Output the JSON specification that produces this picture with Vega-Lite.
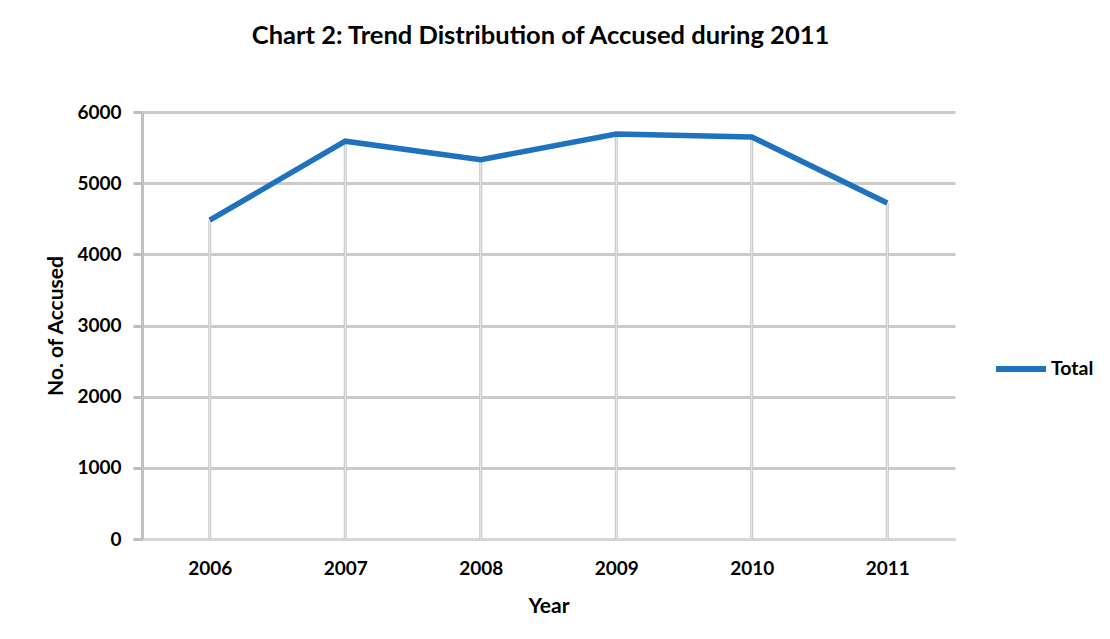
{
  "$schema": "https://vega.github.io/schema/vega-lite/v6.json",
  "autosize": "none",
  "width": 813,
  "height": 427,
  "padding": {"left": 142, "top": 112, "right": 155, "bottom": 100},
  "background": "white",
  "config": {
    "font": "Lato",
    "view": {"stroke": null},
    "axis": {"labelFont": "Lato", "titleFont": "Lato", "labelFontWeight": "bold", "titleFontWeight": "bold", "labelColor": "#000000", "titleColor": "#000000", "labelFontSize": 19, "titleFontSize": 21}
  },
  "title": {
    "text": "Chart 2: Trend Distribution of Accused during 2011",
    "font": "Lato",
    "fontSize": 25.5,
    "fontWeight": "bold",
    "color": "#000000",
    "anchor": "middle",
    "offset": 54,
    "dx": -8
  },
  "data": {
    "values": [
      {"Year": "2006", "Accused": 4480, "Series": "Total"},
      {"Year": "2007", "Accused": 5590, "Series": "Total"},
      {"Year": "2008", "Accused": 5330, "Series": "Total"},
      {"Year": "2009", "Accused": 5690, "Series": "Total"},
      {"Year": "2010", "Accused": 5650, "Series": "Total"},
      {"Year": "2011", "Accused": 4720, "Series": "Total"}
    ]
  },
  "encoding": {
    "x": {
      "field": "Year",
      "type": "ordinal",
      "scale": {"type": "point", "padding": 0.5},
      "axis": {"title": "Year", "labelAngle": 0, "ticks": false, "grid": false, "domainColor": "#d6d6d6", "domainWidth": 3, "labelPadding": 20, "titlePadding": 17}
    }
  },
  "layer": [
    {
      "mark": {"type": "rule", "stroke": "#c4c4c4", "strokeWidth": 3},
      "encoding": {
        "y": {
          "field": "Accused",
          "type": "quantitative",
          "scale": {"domain": [0, 6000]},
          "axis": {"title": "No. of Accused", "format": "d", "values": [0, 1000, 2000, 3000, 4000, 5000, 6000], "grid": true, "gridColor": "#cbcbcb", "gridWidth": 3, "tickColor": "#bdbdbd", "tickSize": 9, "tickWidth": 3, "domainColor": "#c0c0c0", "domainWidth": 3, "labelPadding": 12, "titlePadding": 10}
        },
        "y2": {"datum": 0}
      }
    },
    {
      "mark": {"type": "rule", "stroke": "#f0f0f0", "strokeWidth": 1},
      "encoding": {
        "y": {"field": "Accused", "type": "quantitative"},
        "y2": {"datum": 0}
      }
    },
    {
      "mark": {"type": "line", "strokeWidth": 5.5, "strokeJoin": "miter"},
      "encoding": {
        "y": {"field": "Accused", "type": "quantitative"},
        "color": {
          "field": "Series",
          "type": "nominal",
          "scale": {"range": ["#1f72be"]},
          "legend": {"title": null, "orient": "none", "legendX": 851, "legendY": 229, "symbolType": "stroke", "symbolSize": 2500, "symbolStrokeWidth": 6, "labelFont": "Lato", "labelFontSize": 19.5, "labelFontWeight": "bold", "labelColor": "#000000", "labelOffset": 2}
        }
      }
    }
  ]
}
